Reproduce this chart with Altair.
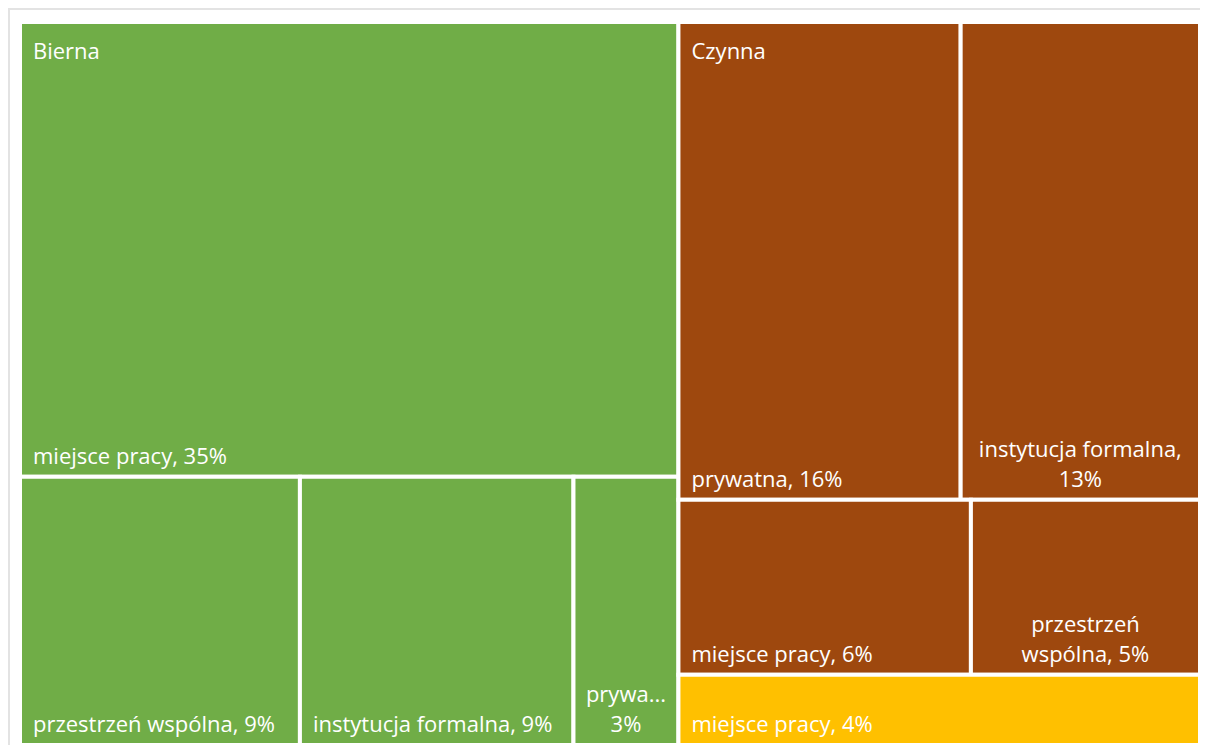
import altair as alt
import pandas as pd

# ---- data ----
groups = ["Bierna", "Czynna", ""]
group_colors = ["#70AD47", "#9E480E", "#FFC000"]

bierna_items = ["miejsce pracy", "przestrzeń wspólna", "instytucja formalna", "prywatna"]
bierna_values = [35.1, 8.8, 8.6, 3.3]

czynna_items = ["prywatna", "instytucja formalna", "miejsce pracy", "przestrzeń wspólna"]
czynna_values = [15.8, 13.4, 6.0, 4.7]

inne_items = ["miejsce pracy"]
inne_values = [4.3]

group_items = [bierna_items, czynna_items, inne_items]
group_values = [bierna_values, czynna_values, inne_values]

# ---- layout helpers (squarified treemap) ----
W, H = 1180, 723
FONT = "Open Sans"
FS = 22
LINE_H = 30

def worst(row, length):
    s = sum(row)
    return max(max(length * length * r / (s * s), (s * s) / (length * length * r)) for r in row)

def squarify(areas, x, y, w, h):
    rects = []
    i = 0
    while i < len(areas):
        length = min(w, h)
        row = [areas[i]]
        j = i + 1
        while j < len(areas) and worst(row + [areas[j]], length) <= worst(row, length):
            row.append(areas[j])
            j += 1
        s = sum(row)
        if w >= h:
            cw = s / h
            yy = y
            for a in row:
                rh = a / cw
                rects.append((x, yy, x + cw, yy + rh))
                yy += rh
            x += cw
            w -= cw
        else:
            rh = s / w
            xx = x
            for a in row:
                rw = a / rh
                rects.append((xx, y, xx + rw, y + rh))
                xx += rw
            y += rh
            h -= rh
        i = j
    return rects

CW = {"a": .556, "b": .613, "c": .48, "d": .613, "e": .561, "f": .336, "g": .547,
      "h": .614, "i": .258, "j": .258, "k": .534, "l": .258, "m": .932, "n": .614,
      "o": .604, "p": .613, "r": .409, "s": .479, "t": .352, "u": .614, "w": .797,
      "y": .5, "z": .468, "ń": .614, "ó": .604, ",": .258, " ": .26, ".": .267,
      "%": .843}

def tw(s):
    return sum(CW.get(ch, .572) for ch in s) * FS

def fit_label(text, width):
    avail = width - 26
    if tw(text) <= avail:
        return [text]
    lines, cur = [], ""
    for word in text.split(" "):
        trial = (cur + " " + word).strip()
        if not cur or tw(trial) <= avail:
            cur = trial
        else:
            lines.append(cur)
            cur = word
    lines.append(cur)
    out = []
    for ln in lines:
        if tw(ln) > avail + 4:
            while ln and tw(ln + "...") > avail + 4:
                ln = ln[:-1]
            ln = ln + "..."
        out.append(ln)
    return out

total = sum(sum(v) for v in group_values)
scale = W * H / total
group_rects = squarify([sum(v) * scale for v in group_values], 0, 0, W, H)

rows = []
group_rows = []
for g, color, items, vals, (gx0, gy0, gx1, gy1) in zip(groups, group_colors, group_items,
                                                        group_values, group_rects):
    if g and (gy1 - gy0) > 150:
        group_rows.append({"group": g, "x": gx0, "y": gy0})
    rects = squarify([v * scale for v in vals], gx0, gy0, gx1 - gx0, gy1 - gy0)
    for name, v, (x0, y0, x1, y1) in zip(items, vals, rects):
        label = f"{name}, {round(v / total * 100)}%"
        lines = fit_label(label, x1 - x0)
        rows.append({"group": g, "item": name, "value": v, "color": color,
                     "x0": x0, "y0": y0, "x1": x1, "y1": y1, "xc": (x0 + x1) / 2,
                     "label": "\n".join(lines), "wrapped": len(lines) > 1,
                     "ty": y1 - LINE_H * (len(lines) - 1)})

df = pd.DataFrame(rows)
gdf = pd.DataFrame(group_rows)

xs = alt.Scale(domain=[0, W], nice=False, zero=False)
ys = alt.Scale(domain=[0, H], nice=False, zero=False, reverse=True)

base = alt.Chart(df)

rects = base.mark_rect(stroke="white", strokeWidth=4).encode(
    x=alt.X("x0:Q", scale=xs, axis=None),
    x2="x1:Q",
    y=alt.Y("y0:Q", scale=ys, axis=None),
    y2="y1:Q",
    color=alt.Color("color:N", scale=None, legend=None),
    tooltip=["group:N", "item:N", "value:Q"],
)

single = base.transform_filter("!datum.wrapped").mark_text(
    align="left", baseline="alphabetic", dx=13, dy=-13, color="white",
    font=FONT, fontSize=FS, lineBreak="\n",
).encode(x=alt.X("x0:Q", scale=xs), y=alt.Y("ty:Q", scale=ys), text="label:N")

wrapped = base.transform_filter("datum.wrapped").mark_text(
    align="center", baseline="alphabetic", dy=-13, color="white",
    font=FONT, fontSize=FS, lineBreak="\n", lineHeight=LINE_H,
).encode(x=alt.X("xc:Q", scale=xs), y=alt.Y("ty:Q", scale=ys), text="label:N")

glabels = alt.Chart(gdf).mark_text(
    align="left", baseline="alphabetic", dx=13, dy=37, color="white",
    font=FONT, fontSize=FS,
).encode(x=alt.X("x:Q", scale=xs), y=alt.Y("y:Q", scale=ys), text="group:N")

frame_top = alt.Chart(gdf).mark_rule(color="#e3e3e3", strokeWidth=2).encode(
    x=alt.value(-12), x2=alt.value(W + 20), y=alt.value(-13))
frame_left = alt.Chart(gdf).mark_rule(color="#e3e3e3", strokeWidth=2).encode(
    x=alt.value(-11), y=alt.value(-13), y2=alt.value(H + 20))

chart = alt.layer(frame_top, frame_left, rects, single, wrapped, glabels).properties(
    width=W, height=H,
    padding={"left": 12, "top": 14, "right": 0, "bottom": 0},
    autosize=alt.AutoSizeParams(type="none"),
).configure_view(stroke=None)

chart.save("out.html", embed_options={"renderer": "svg", "actions": False})
